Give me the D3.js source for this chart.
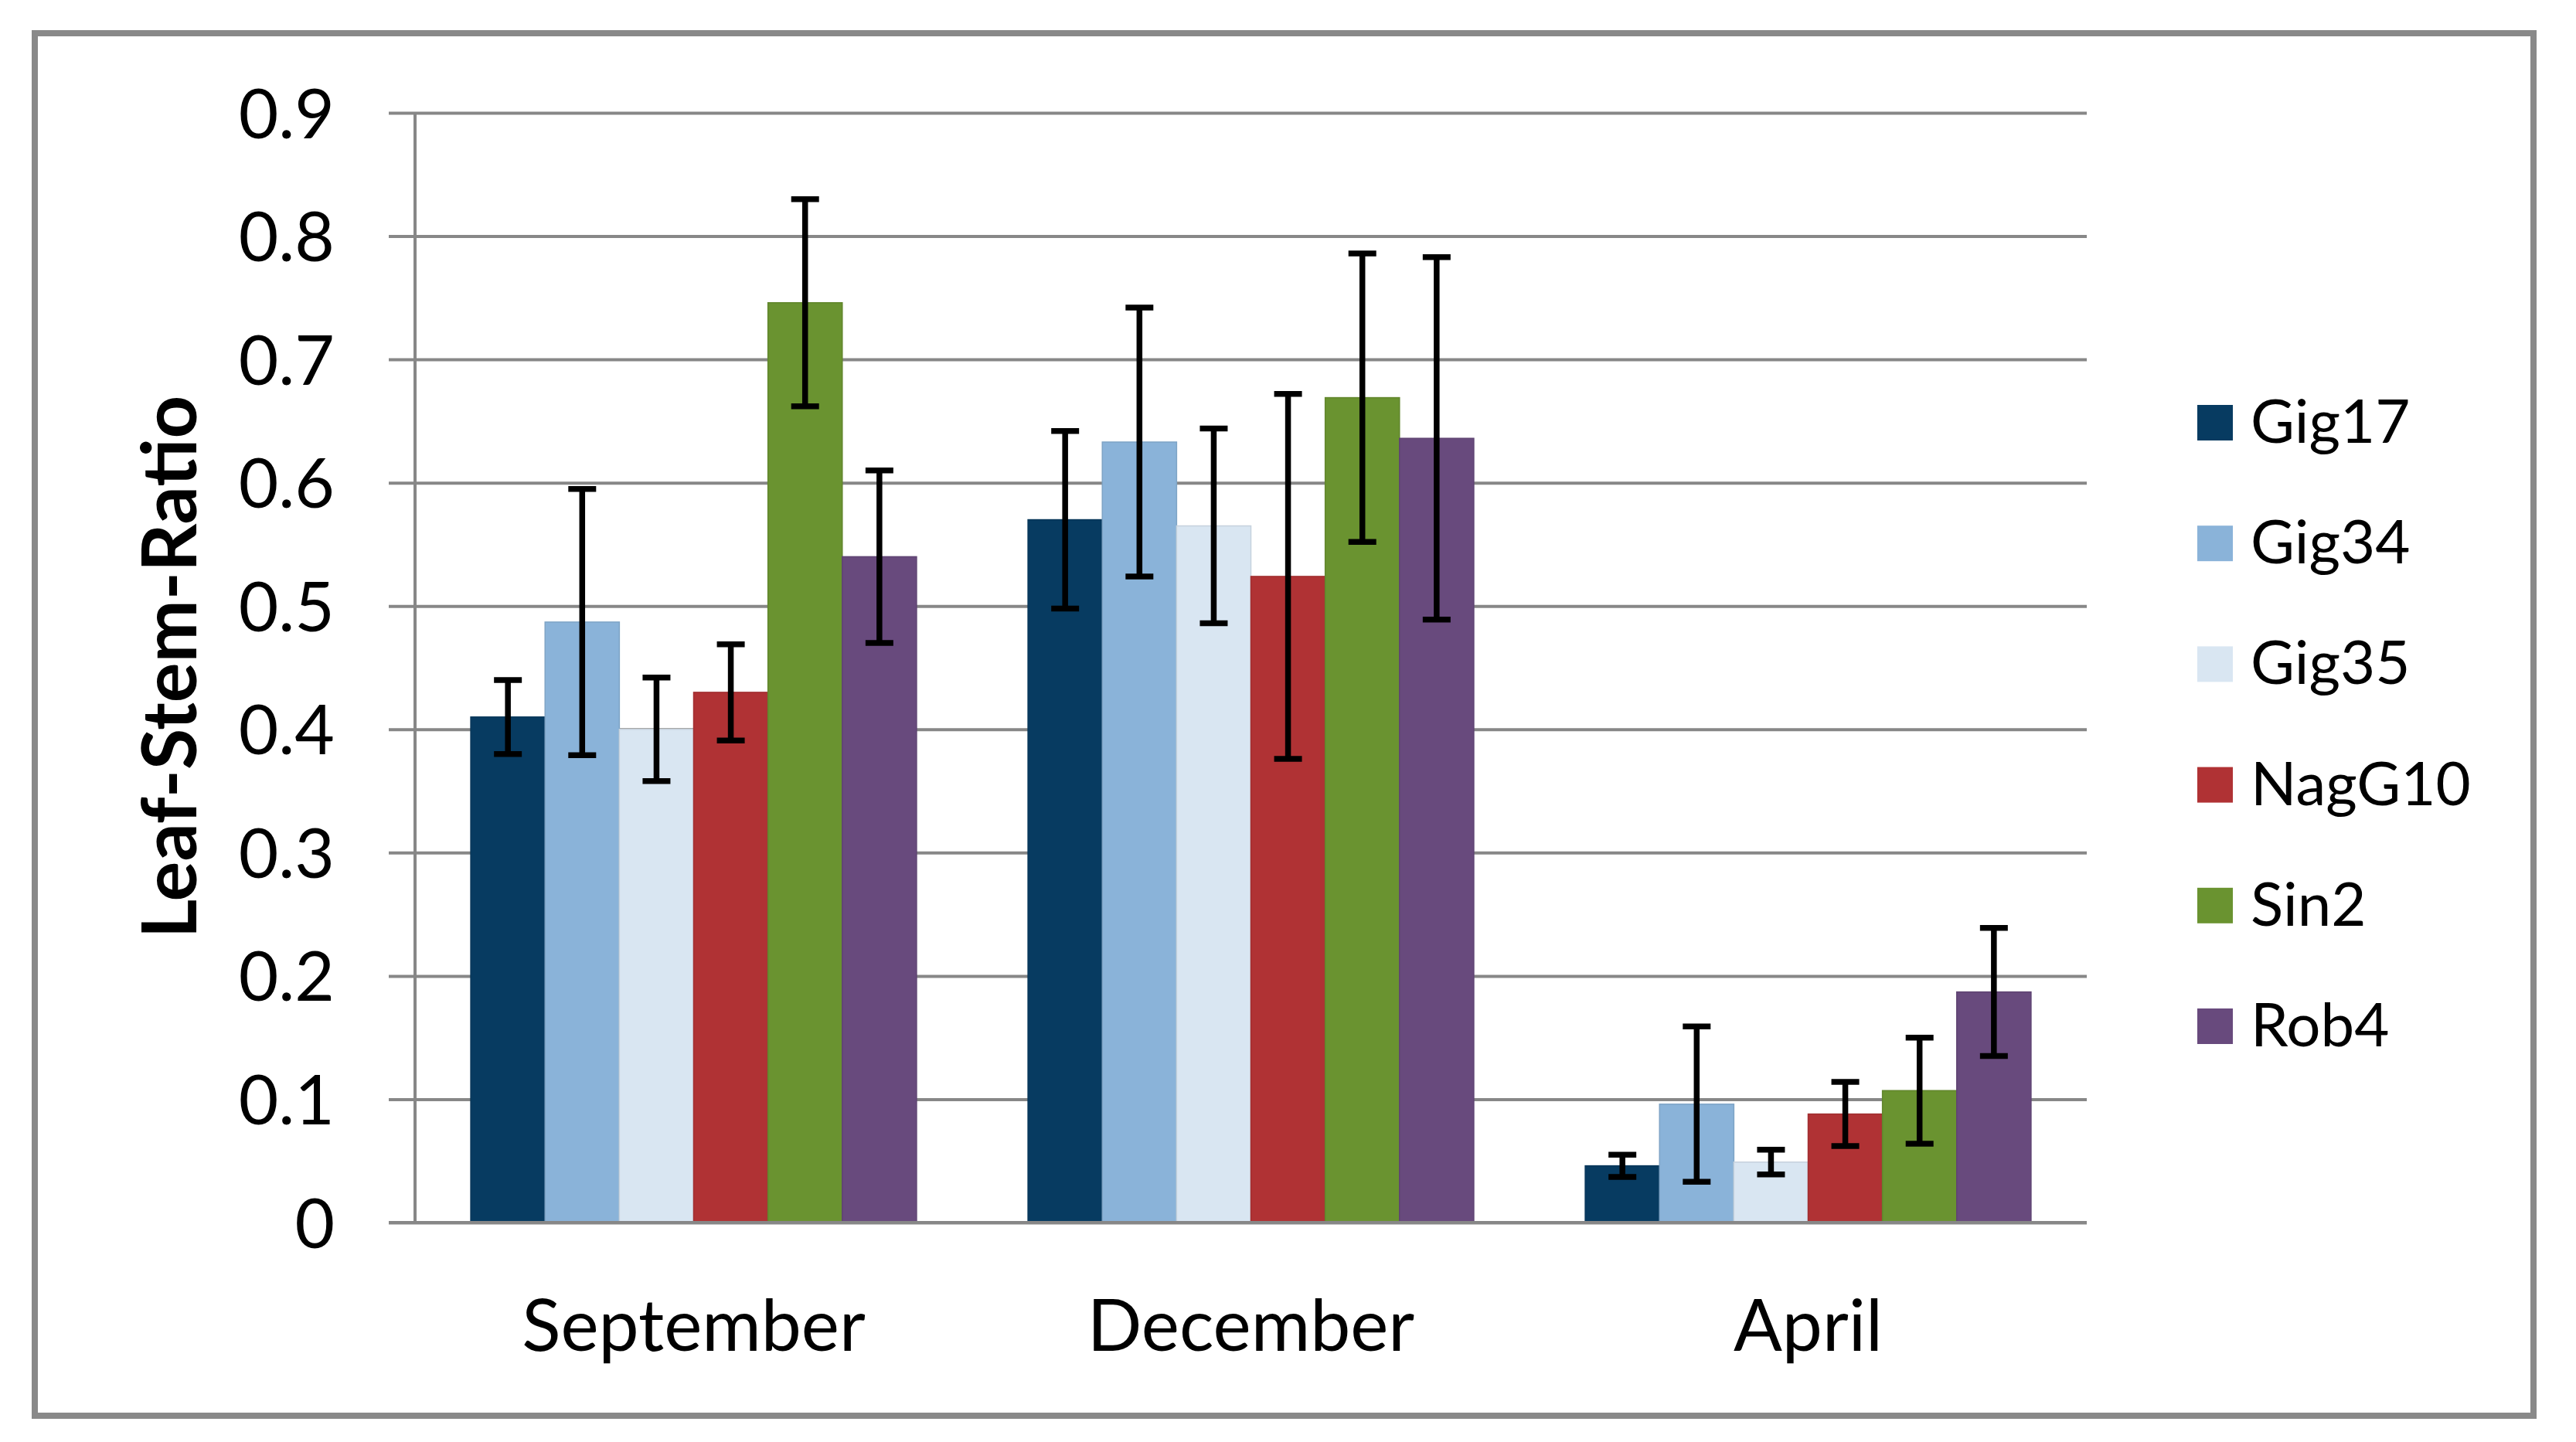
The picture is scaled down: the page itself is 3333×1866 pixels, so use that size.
<!DOCTYPE html>
<html>
<head>
<meta charset="utf-8">
<script src="https://cdn.jsdelivr.net/npm/d3@7"></script>
<style>
  html, body { margin: 0; padding: 0; background: #ffffff; }
  svg { display: block; }
  text { font-family: Lato, "Open Sans", sans-serif; fill: #000; }
</style>
</head>
<body>
<svg id="chart" width="3333" height="1866"></svg>
<script>
// ---- data ----
const categories = ["September", "December", "April"];
const seriesNames = ["Gig17", "Gig34", "Gig35", "NagG10", "Sin2", "Rob4"];
const seriesColors = ["#073b61", "#8ab3d9", "#d9e6f2", "#b03234", "#6a9330", "#684a7d"];
const gig17 = [0.410, 0.570, 0.046];
const gig34 = [0.487, 0.633, 0.096];
const gig35 = [0.400, 0.565, 0.049];
const nagG10 = [0.430, 0.524, 0.088];
const sin2 = [0.746, 0.669, 0.107];
const rob4 = [0.540, 0.636, 0.187];
const gig17Err = [0.030, 0.072, 0.009];
const gig34Err = [0.108, 0.109, 0.063];
const gig35Err = [0.042, 0.079, 0.010];
const nagG10Err = [0.039, 0.148, 0.026];
const sin2Err = [0.084, 0.117, 0.043];
const rob4Err = [0.070, 0.147, 0.052];
const yTicks = [0, 0.1, 0.2, 0.3, 0.4, 0.5, 0.6, 0.7, 0.8, 0.9];
const yTitle = "Leaf-Stem-Ratio";

const values = [gig17, gig34, gig35, nagG10, sin2, rob4];
const errors = [gig17Err, gig34Err, gig35Err, nagG10Err, sin2Err, rob4Err];
const rows = [];
seriesNames.forEach((s, si) => {
  categories.forEach((c, ci) => {
    rows.push({ series: s, si, cat: c, value: values[si][ci], err: errors[si][ci] });
  });
});

// ---- layout ----
const svg = d3.select("#chart");
const plot = { left: 537, right: 2700, top: 146, bottom: 1582 };

const x0 = d3.scaleBand().domain(categories).range([plot.left, plot.right]).paddingInner(0).paddingOuter(0);
const groupFrac = 0.8;
const x1 = d3.scaleBand().domain(seriesNames)
  .range([x0.bandwidth() * (1 - groupFrac) / 2, x0.bandwidth() * (1 + groupFrac) / 2]).padding(0);
const y = d3.scaleLinear().domain([0, 0.9]).range([plot.bottom, plot.top]);
const color = d3.scaleOrdinal().domain(seriesNames).range(seriesColors);

// outer border
svg.append("rect")
  .attr("x", 45).attr("y", 43)
  .attr("width", 3278 - 45).attr("height", 1832 - 43)
  .attr("fill", "none").attr("stroke", "#898989").attr("stroke-width", 8);

// gridlines + y axis
const yAxis = d3.axisLeft(y).tickValues(yTicks).tickFormat(d => d === 0 ? "0" : d3.format(".1f")(d))
  .tickSize(-(plot.right - plot.left)).tickPadding(0).tickSizeOuter(0);
const gy = svg.append("g").attr("transform", `translate(${plot.left},0)`).call(yAxis);
gy.select(".domain").remove();
gy.selectAll(".tick line")
  .attr("x1", -34)
  .attr("stroke", "#878787").attr("stroke-width", 4);
gy.selectAll(".tick text")
  .attr("x", -104)
  .attr("dy", "0.36em")
  .style("font-family", "Lato, sans-serif")
  .style("font-size", "89px")
  .attr("fill", "#000");

// y axis line
svg.append("line")
  .attr("x1", plot.left).attr("x2", plot.left)
  .attr("y1", y(0.9)).attr("y2", y(0))
  .attr("stroke", "#878787").attr("stroke-width", 4);

// bars
const bars = svg.append("g");
bars.selectAll("rect").data(rows).join("rect")
  .attr("x", d => x0(d.cat) + x1(d.series))
  .attr("y", d => y(d.value))
  .attr("width", x1.bandwidth())
  .attr("height", d => y(0) - y(d.value))
  .attr("fill", d => color(d.series))
  .attr("stroke", d => d3.color(color(d.series)).darker(0.25))
  .attr("stroke-width", 1.5);

// x axis baseline
svg.append("line")
  .attr("x1", plot.left - 34).attr("x2", plot.right)
  .attr("y1", y(0)).attr("y2", y(0))
  .attr("stroke", "#878787").attr("stroke-width", 4);

// error bars
const capHalf = 18;
const eg = svg.append("g").attr("stroke", "#000").attr("stroke-width", 7.5);
const cx = d => x0(d.cat) + x1(d.series) + x1.bandwidth() / 2;
eg.selectAll("line.stem").data(rows).join("line").attr("class", "stem")
  .attr("x1", cx).attr("x2", cx)
  .attr("y1", d => y(d.value + d.err)).attr("y2", d => y(d.value - d.err));
eg.selectAll("line.capTop").data(rows).join("line").attr("class", "capTop")
  .attr("x1", d => cx(d) - capHalf).attr("x2", d => cx(d) + capHalf)
  .attr("y1", d => y(d.value + d.err)).attr("y2", d => y(d.value + d.err));
eg.selectAll("line.capBot").data(rows).join("line").attr("class", "capBot")
  .attr("x1", d => cx(d) - capHalf).attr("x2", d => cx(d) + capHalf)
  .attr("y1", d => y(d.value - d.err)).attr("y2", d => y(d.value - d.err));

// category labels
svg.append("g").selectAll("text").data(categories).join("text")
  .attr("x", d => x0(d) + x0.bandwidth() / 2)
  .attr("y", 1748)
  .attr("text-anchor", "middle")
  .style("font-size", "93px")
  .text(d => d);

// y title
svg.append("text")
  .attr("transform", "translate(254,863) rotate(-90)")
  .attr("text-anchor", "middle")
  .style("font-size", "97px")
  .style("font-weight", "bold")
  .text(yTitle);

// legend
const legendY = d3.scalePoint().domain(seriesNames).range([547, 1328]);
const lg = svg.append("g").selectAll("g").data(seriesNames).join("g")
  .attr("transform", d => `translate(2843,${legendY(d)})`);
lg.append("rect")
  .attr("x", 0).attr("y", -23).attr("width", 46).attr("height", 46)
  .attr("fill", d => color(d));
lg.append("text")
  .attr("x", 69).attr("y", 26)
  .style("font-size", "78px")
  .text(d => d);
</script>
</body>
</html>
